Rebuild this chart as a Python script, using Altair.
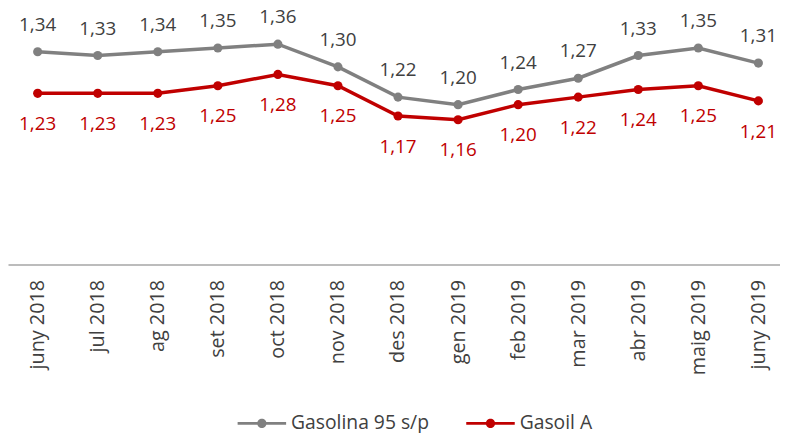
import json
import altair as alt
import pandas as pd

months = ["juny 2018", "jul 2018", "ag 2018", "set 2018", "oct 2018", "nov 2018",
          "des 2018", "gen 2019", "feb 2019", "mar 2019", "abr 2019", "maig 2019", "juny 2019"]
gasolina = [1.34, 1.33, 1.34, 1.35, 1.36, 1.30, 1.22, 1.20, 1.24, 1.27, 1.33, 1.35, 1.31]
gasoil = [1.23, 1.23, 1.23, 1.25, 1.28, 1.25, 1.17, 1.16, 1.20, 1.22, 1.24, 1.25, 1.21]
series_names = ["Gasolina 95 s/p", "Gasoil A"]

rows = []
for name, vals in zip(series_names, [gasolina, gasoil]):
    for i, (m, v) in enumerate(zip(months, vals)):
        rows.append({"idx": i, "month": m, "series": name, "value": v,
                     "label": f"{v:.2f}".replace(".", ",")})
df = pd.DataFrame(rows)

FONT = "Open Sans"
line_colors = ["#808080", "#c00000"]
text_colors = ["#404040", "#c00000"]

label_expr = "{0}[round(datum.value)]".format(json.dumps(months))

x = alt.X("idx:Q",
          scale=alt.Scale(domain=[-0.494, 12.36], nice=False, zero=False),
          axis=alt.Axis(values=list(range(len(months))), labelExpr=label_expr,
                        title=None, labelAngle=-90, ticks=False, grid=False,
                        domainColor="#a6a6a6", domainWidth=1.5,
                        labelFont=FONT, labelFontSize=20, labelColor="#404040",
                        labelPadding=15))
y = alt.Y("value:Q", scale=alt.Scale(domain=[0.777, 1.3976], nice=False, zero=False), axis=None)

base = alt.Chart(df)

line_layers = [
    base.transform_filter(alt.datum.series == name).mark_line(strokeWidth=3.5, color=col).encode(x=x, y=y)
    for name, col in zip(series_names, line_colors)
]

sym_path = ("M-1,-0.06L1,-0.06L1,0.06L-1,0.06Z "
            "M0.19,0A0.19,0.19 0 1,1 -0.19,0A0.19,0.19 0 1,1 0.19,0Z")

points = base.mark_point(filled=True, size=85, opacity=1).encode(
    x=x, y=y,
    color=alt.Color("series:N", scale=alt.Scale(domain=series_names, range=line_colors),
                    legend=alt.Legend(title=None, orient="none", direction="horizontal",
                                      legendX=232, legendY=373,
                                      symbolType=sym_path, symbolSize=2401,
                                      symbolStrokeWidth=0, symbolOpacity=1,
                                      labelFont=FONT, labelFontSize=19.5, labelColor="#404040",
                                      labelOffset=5, columnPadding=37, padding=0)),
)

text_top = base.transform_filter(alt.datum.series == series_names[0]).mark_text(
    font=FONT, fontSize=19, baseline="alphabetic", dy=-21, color=text_colors[0]
).encode(x=x, y=y, text="label:N")

text_bot = base.transform_filter(alt.datum.series == series_names[1]).mark_text(
    font=FONT, fontSize=19, baseline="alphabetic", dy=37, color=text_colors[1]
).encode(x=x, y=y, text="label:N")

chart = alt.layer(*line_layers, points, text_top, text_bot).properties(
    width=780, height=237,
    autosize=alt.AutoSizeParams(type="none"),
    padding={"left": 0, "top": 20, "right": 0, "bottom": 168},
).configure_view(stroke=None)

chart.save("out.html", embed_options={"renderer": "svg", "actions": False})
